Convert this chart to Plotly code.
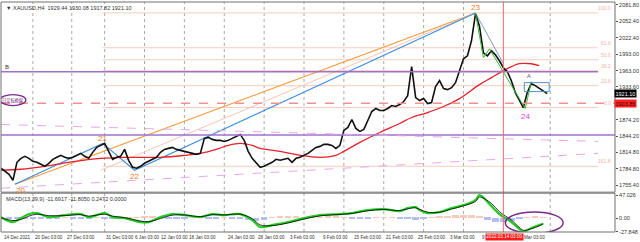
import plotly.graph_objects as go

# ---------------- data ----------------
close = [1786.1, 1780.7, 1775.2, 1764.4, 1796.9, 1804.1, 1807.7, 1804.1, 1798.7, 1796.9,
         1793.3, 1789.7, 1795.1, 1802.3, 1805.9, 1809.5, 1805.9, 1804.1, 1805.9, 1809.5,
         1813.1, 1807.7, 1804.1, 1814.9, 1823.9, 1827.5, 1831.1, 1816.7, 1802.3, 1805.9,
         1807.7, 1820.3, 1800.5, 1787.9, 1786.1, 1789.7, 1795.1, 1798.7, 1802.3, 1805.9,
         1814.9, 1820.3, 1822.1, 1823.9, 1820.3, 1818.5, 1816.7, 1814.9, 1813.1, 1811.3,
         1813.1, 1840.2, 1842.0, 1838.4, 1836.6, 1836.6, 1834.7, 1836.6, 1840.2, 1843.8,
         1847.4, 1836.6, 1816.7, 1804.1, 1795.1, 1787.9, 1789.7, 1793.3, 1796.9, 1802.3,
         1800.5, 1802.3, 1804.1, 1796.9, 1804.1, 1805.9, 1809.5, 1813.1, 1818.5, 1823.9,
         1825.7, 1829.3, 1829.3, 1827.5, 1822.1, 1827.5, 1854.6, 1860.0, 1874.4, 1858.2,
         1852.8, 1856.4, 1872.6, 1888.9, 1894.3, 1890.7, 1890.7, 1894.3, 1899.7, 1897.9,
         1901.5, 1906.9, 1917.7, 1970.0, 1914.1, 1908.7, 1912.3, 1903.3, 1905.1, 1933.9,
         1944.7, 1930.3, 1928.5, 1932.1, 1941.1, 1962.8, 1984.4, 1989.8, 2016.9, 2065.6,
         2043.9, 1995.2, 1989.8, 1998.8, 1991.6, 1980.8, 1968.2, 1961.0, 1944.7, 1923.1,
         1910.5, 1896.1, 1923.1, 1939.3, 1935.7, 1930.3, 1924.9, 1921.1]
bar_idx = list(range(len(close)))

ma_idx = [0, 5, 11, 17, 25, 32, 40, 46, 50, 54, 57, 60, 63, 65, 70, 75, 80, 84, 86,
          90, 95, 100, 103, 107, 111, 115, 120, 123, 126, 128, 130, 133, 135]
ma_vals = [1782.5, 1784.3, 1789.7, 1796.9, 1804.1, 1805.9, 1805.9, 1809.5, 1813.1, 1820.3,
           1827.5, 1831.1, 1827.5, 1822.1, 1816.7, 1809.5, 1805.9, 1809.5, 1816.7,
           1832.9, 1850.9, 1867.2, 1878.0, 1887.0, 1897.9, 1912.3, 1937.5, 1950.2,
           1962.8, 1970.0, 1975.4, 1975.4, 1971.8]

macd_idx = [0, 3, 5, 7, 9, 12, 16, 20, 22, 26, 28, 31, 35, 37, 40, 43, 46, 50, 53, 56, 60,
            63, 65, 68, 72, 76, 80, 85, 88, 92, 96, 100, 102, 104, 105, 107, 110, 113, 116,
            119, 120, 123, 125, 128, 130, 131, 133, 135, 136]
macd_main = [2.0, -8.2, 0.0, 8.2, 10.2, 2.0, 6.1, 8.2, 2.0, 10.2, 2.0, 0.0, -8.2, -8.2, 2.0,
             8.2, 6.1, 2.0, 8.2, 6.1, 8.2, -4.1, -18.4, -14.3, -8.2, 0.0, 6.1, 8.2, 10.2,
             16.3, 18.4, 14.3, 20.4, 22.4, 16.3, 10.2, 12.2, 20.4, 26.5, 36.7, 47.0, 24.5,
             8.2, -8.2, -22.4, -27.8, -20.4, -14.3, -11.7]
macd_signal = [1.0, -5.0, -3.0, 4.0, 8.0, 5.0, 5.0, 7.0, 4.0, 8.0, 4.0, 1.0, -6.0, -7.5, -1.0,
               6.0, 6.5, 3.0, 7.0, 6.5, 8.0, -1.0, -14.0, -15.5, -10.0, -2.0, 4.5, 7.5, 9.5,
               15.0, 17.5, 15.5, 19.0, 21.0, 18.0, 12.0, 12.0, 18.5, 25.0, 34.0, 43.0, 30.0,
               13.0, -4.0, -19.0, -25.0, -22.0, -16.0, -11.8]
hist_idx = list(range(0, 137, 2))
hist_vals = [0, -1, -1.5, -1, -2, -2.5, -2, -1, 0.5, -1, -2, -1.5, 0.5, -1, -2, -1, 0.5, 1,
             2, 2, 1.5, -1, -1.5, -1, 0.5, 0.5, -0.5, -1, 0.5, -0.5, -1, -4, -6, -4, 1, 2,
             2.5, 2, 1.5, 0.5, 1, 2.5, 2, 0.5, -1, -2, -1, 0.5, 1, 0.5, -1, -2, -4, -3, 1,
             2, 3, 5, 6, 5, 2, -4, -8, -9, -7, -3, 1, 2, 1]

# zigzag / wave points: 20, 21, 22, 23, 24
wave_labels = ["20", "21", "22", "23", "24"]
wave_idx = [3.5, 25.5, 33.5, 119.0, 131.5]
wave_price = [1757.2, 1831.1, 1782.5, 2067.4, 1894.3]
wave_label_price = [1746.0, 1840.5, 1770.5, 2076.5, 1880.5]

fib_levels = ["100.0", "61.8", "50.0", "38.2", "23.6", "0.0", "161.8"]
fib_prices = [2067.4, 2004.3, 1982.6, 1962.8, 1935.7, 1896.1, 1789.7]

price_ticks = [2081.80, 2052.40, 2022.40, 1993.00, 1963.00, 1933.60, 1874.20, 1844.20,
               1814.80, 1784.80, 1755.40]
macd_ticks = [47.026, 0.00, -27.848]
macd_tick_text = ["47.026", "0.00", "-27.848"]

x_labels = ["14 Dec 2021", "20 Dec 03:00", "27 Dec 03:00", "31 Dec 03:00", "6 Jan 03:00",
            "12 Jan 03:00", "18 Jan 03:00", "24 Jan 03:00", "28 Jan 03:00", "3 Feb 03:00",
            "9 Feb 03:00", "15 Feb 03:00", "21 Feb 03:00", "25 Feb 03:00", "3 Mar 03:00",
            "9", "Mar 03:00"]
x_label_idx = [0.25, 8, 16, 25.75, 33.0, 39.75, 46.75, 56.5, 64, 72, 80.25, 88, 96, 104, 112,
               120.25, 130.6]
grid_idx = [8, 17.75, 26, 36, 46, 56, 66, 76, 86, 96, 106, 116, 137.75]

last_price = 1921.10
conv_line = 1903.85
purple_hi = 1961.0
purple_lo = 1846.5
cursor_idx = 126

FONT = "Liberation Sans Narrow, Liberation Sans, Arial"
fig = go.Figure()

# histogram
fig.add_trace(go.Bar(x=hist_idx, y=hist_vals, yaxis="y2", width=1.6,
                     marker=dict(color=["#b4bcf6" if v < 0 else "#f8cabb" for v in hist_vals],
                                 line=dict(width=0)), showlegend=False))
fig.add_trace(go.Scatter(x=macd_idx, y=macd_main, yaxis="y2", mode="lines",
                         line=dict(color="#22cc22", width=2.2, shape="spline"), showlegend=False))
fig.add_trace(go.Scatter(x=macd_idx, y=macd_signal, yaxis="y2", mode="lines",
                         line=dict(color="#000000", width=0.8, shape="spline"), showlegend=False))

# trend lines
fig.add_trace(go.Scatter(x=[wave_idx[0], wave_idx[3]], y=[wave_price[0], wave_price[3]],
                         mode="lines", line=dict(color="#f59a3a", width=1.1), showlegend=False))
fig.add_trace(go.Scatter(x=[25, wave_idx[3]], y=[1782.5, wave_price[3]], mode="lines",
                         line=dict(color="#f6c6b6", width=1), showlegend=False))
fig.add_trace(go.Scatter(x=wave_idx[:4], y=wave_price[:4], mode="lines",
                         line=dict(color="#3d8fe0", width=1.1), showlegend=False))
fig.add_trace(go.Scatter(x=[wave_idx[3], 126], y=[wave_price[3], 1975.4], mode="lines",
                         line=dict(color="#7f9ccc", width=1), showlegend=False))

# MA
fig.add_trace(go.Scatter(x=ma_idx, y=ma_vals, mode="lines",
                         line=dict(color="#e8202a", width=1.3, shape="spline"), showlegend=False))
# price
fig.add_trace(go.Scatter(x=bar_idx, y=close, mode="lines",
                         line=dict(color="#111111", width=1.6), showlegend=False))
# green zigzag
fig.add_trace(go.Scatter(x=[wave_idx[3], 121, 122.5, wave_idx[4], 133],
                         y=[wave_price[3], 1986.2, 2002.5, wave_price[4], 1943.0],
                         mode="lines", line=dict(color="#33bb33", width=1), showlegend=False))

shapes = []
for g in grid_idx:
    shapes.append(dict(type="line", xref="x", yref="paper", x0=g, x1=g, y0=0, y1=1,
                       line=dict(color="#a8a8a8", width=1, dash="dot"), layer="below"))
for fp in fib_prices:
    shapes.append(dict(type="line", xref="x", yref="y", x0=25.5, x1=149.75, y0=fp, y1=fp,
                       line=dict(color="#f8cdbd", width=1), layer="below"))
shapes.append(dict(type="line", xref="x", yref="y", x0=0, x1=149.75, y0=purple_hi, y1=purple_hi,
                   line=dict(color="#a070d0", width=1.5)))
shapes.append(dict(type="line", xref="paper", yref="y", x0=0, x1=1, y0=purple_lo, y1=purple_lo,
                   line=dict(color="#a070d0", width=1.5)))
shapes.append(dict(type="line", xref="paper", yref="y", x0=0, x1=1, y0=conv_line, y1=conv_line,
                   line=dict(color="#f29090", width=1.5, dash="dash")))
shapes.append(dict(type="line", xref="x", yref="y", x0=0, x1=149.75, y0=1865.4, y1=1834.7,
                   line=dict(color="#e6a6e6", width=1, dash="dash")))
shapes.append(dict(type="line", xref="x", yref="y", x0=0, x1=149.75, y0=1750.0, y1=1813.1,
                   line=dict(color="#e6a6e6", width=1, dash="dash")))
shapes.append(dict(type="line", xref="x", yref="paper", x0=cursor_idx, x1=cursor_idx, y0=0, y1=1,
                   line=dict(color="#f06a6a", width=1)))
shapes.append(dict(type="rect", xref="x", yref="y", x0=131.25, x1=137.5, y0=1924.9, y1=1941.1,
                   line=dict(color="#4a90d0", width=1)))
shapes.append(dict(type="circle", xref="x", yref="y", x0=-0.2, x1=6.25, y0=1899.7, y1=1919.5,
                   line=dict(color="#7a2a8a", width=1.3)))
shapes.append(dict(type="circle", xref="x", yref="y2", x0=126.5, x1=141, y0=-31.5, y1=12.5,
                   line=dict(color="#7a2a8a", width=1.5)))
shapes.append(dict(type="rect", xref="paper", yref="paper", x0=0, x1=1, y0=0.1732, y1=1,
                   line=dict(color="#707070", width=1)))
shapes.append(dict(type="rect", xref="paper", yref="paper", x0=0, x1=1, y0=0, y1=0.1688,
                   line=dict(color="#707070", width=1)))

ann = []
def txt(**kw):
    base = dict(showarrow=False, font=dict(family=FONT, size=5.5, color="#333333"))
    base.update(kw)
    ann.append(base)

txt(text="\u25bc XAUUSD,H4  1929.44 1930.08 1917.82 1921.10", xref="paper", yref="paper",
    x=0, y=1, xanchor="left", yanchor="top", xshift=3, yshift=-1)
txt(text="MACD(13,39,9) -11.6917 -11.8050 0.2472 0.0000", xref="paper", yref="paper",
    x=0, y=0.1688, xanchor="left", yanchor="top", xshift=3, yshift=-1)
txt(text="B", xref="paper", yref="y", x=0, y=purple_hi, xanchor="left", yanchor="bottom",
    xshift=2, font=dict(family=FONT, size=6, color="#333333"))
txt(text="日足転換線", xref="x", yref="y", x=3, y=1909.6,
    font=dict(family="Noto Sans CJK JP", size=4.2, color="#7a2a8a"))
for lab, xi, lp in zip(wave_labels, wave_idx, wave_label_price):
    col = "#e040e0" if lab == "24" else "#f07a28"
    txt(text=lab, xref="x", yref="y", x=xi + (1.5 if lab == "20" else 0), y=lp,
        font=dict(family="Liberation Sans", size=8, color=col))
txt(text="A", xref="x", yref="y", x=132.5, y=1944.0, yanchor="bottom",
    font=dict(family=FONT, size=5.5, color="#555555"))
for lab, fp in zip(fib_levels, fib_prices):
    txt(text=lab, xref="paper", yref="y", x=1, y=fp, xanchor="right", yanchor="bottom",
        xshift=-2, font=dict(family=FONT, size=5, color="#f0b4a2"))
txt(text="1921.10", xref="paper", yref="y", x=1, y=last_price, xanchor="left", xshift=-1,
    bgcolor="#000000", borderpad=0.5, font=dict(family=FONT, size=5.5, color="#ffffff"))
txt(text="1903.85", xref="paper", yref="y", x=1, y=conv_line, xanchor="left", xshift=-1,
    bgcolor="#ff2020", borderpad=0.5, font=dict(family=FONT, size=5.5, color="#400000"))
for lab, xi in zip(x_labels, x_label_idx):
    txt(text=lab, xref="x", yref="paper", x=xi, y=0, xanchor="left", yanchor="top",
        yshift=-1, font=dict(family=FONT, size=4.6, color="#333333"))
txt(text="2022.03.14 03:00", xref="x", yref="paper", x=121.5, y=0, xanchor="left",
    yanchor="top", yshift=-1, bgcolor="#ff1a1a", borderpad=0.3,
    font=dict(family=FONT, size=4.6, color="#ffffff"))

fig.update_layout(
    width=640, height=242, margin=dict(l=1, r=23, t=1, b=10),
    paper_bgcolor="#ffffff", plot_bgcolor="#ffffff", showlegend=False, bargap=0,
    xaxis=dict(range=[0, 154], domain=[0, 1], anchor="y2", showticklabels=False,
               showgrid=False, zeroline=False, showline=False, ticks=""),
    yaxis=dict(range=[1742.8, 2087.2], domain=[0.1732, 1], side="right", anchor="x",
               tickvals=price_ticks, ticktext=["%.2f" % v for v in price_ticks],
               ticks="outside", ticklen=2, tickcolor="#555555",
               tickfont=dict(family=FONT, size=5.5, color="#333333"),
               showgrid=False, zeroline=False, showline=False),
    yaxis2=dict(range=[-28.5, 51], domain=[0, 0.1688], side="right", anchor="x",
                tickvals=macd_ticks, ticktext=macd_tick_text, ticks="outside", ticklen=2,
                tickcolor="#555555", tickfont=dict(family=FONT, size=5.5, color="#333333"),
                showgrid=False, zeroline=False, showline=False),
    shapes=shapes, annotations=ann,
)
fig.write_html("out.html")
